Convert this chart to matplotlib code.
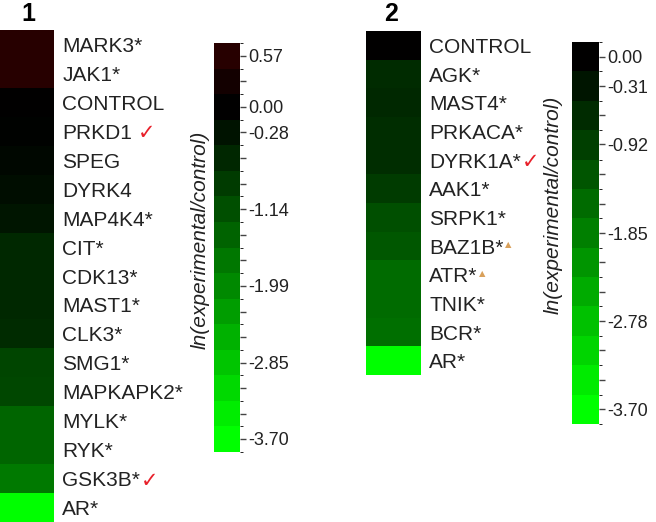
import numpy as np
import matplotlib
matplotlib.use('Agg')
import matplotlib.pyplot as plt
from matplotlib.colors import LinearSegmentedColormap, ListedColormap, BoundaryNorm, Normalize
from matplotlib.cm import ScalarMappable

plt.rcParams['font.family'] = ['Liberation Sans', 'DejaVu Sans']
plt.rcParams['axes.unicode_minus'] = False

# panel 1
genes1 = ['MARK3*', 'JAK1*', 'CONTROL', 'PRKD1', 'SPEG', 'DYRK4', 'MAP4K4*', 'CIT*',
          'CDK13*', 'MAST1*', 'CLK3*', 'SMG1*', 'MAPKAPK2*', 'MYLK*', 'RYK*', 'GSK3B*', 'AR*']
vals1 = [0.57, 0.55, 0.0, -0.05, -0.10, -0.18, -0.30, -0.58,
         -0.58, -0.60, -0.62, -1.00, -1.02, -1.45, -1.47, -1.75, -3.70]
marks1 = {'PRKD1': 'check', 'GSK3B*': 'check'}
cbar_ticks1 = [0.57, 0.285, 0.00, -0.285, -0.57, -0.855, -1.14, -1.425, -1.71,
               -1.99, -2.28, -2.565, -2.85, -3.135, -3.42, -3.70]
cbar_labels1 = {0.57: '0.57', 0.00: '0.00', -0.285: '-0.28', -1.14: '-1.14',
                -1.99: '-1.99', -2.85: '-2.85', -3.70: '-3.70'}

# panel 2
genes2 = ['CONTROL', 'AGK*', 'MAST4*', 'PRKACA*', 'DYRK1A*', 'AAK1*', 'SRPK1*',
          'BAZ1B*', 'ATR*', 'TNIK*', 'BCR*', 'AR*']
vals2 = [0.0, -0.62, -0.60, -0.64, -0.66, -0.85, -1.15, -1.25, -1.55, -1.55, -1.60, -3.70]
marks2 = {'DYRK1A*': 'check', 'BAZ1B*': 'tri', 'ATR*': 'tri'}
cbar_ticks2 = [0.00, -0.31, -0.62, -0.92, -1.23, -1.54, -1.85, -2.16, -2.47,
               -2.78, -3.08, -3.39, -3.70]
cbar_labels2 = {0.00: '0.00', -0.31: '-0.31', -0.92: '-0.92', -1.85: '-1.85',
                -2.78: '-2.78', -3.70: '-3.70'}

W, H = 656, 522
cmap = LinearSegmentedColormap.from_list('gkr', [(0, (0, 1, 0)), (0.5, (0, 0, 0)), (1, (1, 0, 0))])
norm = Normalize(-3.70, 3.70)


def px(x0, y0, x1, y1):
    return [x0 / W, 1 - y1 / H, (x1 - x0) / W, (y1 - y0) / H]


fig = plt.figure(figsize=(W / 100, H / 100), dpi=100)


def heat(rect, genes, vals):
    ax = fig.add_axes(rect)
    ax.imshow(np.array(vals)[:, None], cmap=cmap, norm=norm, aspect='auto',
              interpolation='nearest')
    ax.set_xticks([])
    ax.yaxis.tick_right()
    ax.set_yticks(range(len(genes)))
    ax.set_yticklabels(genes, fontsize=15, color='#222222')
    ax.tick_params(axis='y', length=0, pad=6)
    for s in ax.spines.values():
        s.set_visible(False)
    return ax


def cbar(rect, ticks, labels):
    cax = fig.add_axes(rect)
    step = ticks[0] - ticks[1]
    bounds = [t - step / 2 for t in ticks[::-1]] + [ticks[0] + step / 2]
    colors = [cmap(norm(t)) for t in ticks[::-1]]
    sm = ScalarMappable(norm=BoundaryNorm(bounds, len(colors)), cmap=ListedColormap(colors))
    cb = fig.colorbar(sm, cax=cax, ticks=ticks)
    cb.outline.set_visible(False)
    cax.set_yticklabels([labels.get(t, '') for t in ticks], fontsize=13, color='#222222')
    cax.tick_params(axis='y', length=4, width=1, color='#444444', pad=2)
    return cax


ax1 = heat(px(0, 30, 54, 522), genes1, vals1)
ax2 = heat(px(366, 31, 421, 375), genes2, vals2)
cax1 = cbar(px(214, 43, 240, 452), cbar_ticks1, cbar_labels1)
cax2 = cbar(px(572, 42, 599, 424), cbar_ticks2, cbar_labels2)

fig.text(28 / W, 1 - 14 / H, '1', fontsize=18, fontweight='bold', ha='center', va='center')
fig.text(391 / W, 1 - 14 / H, '2', fontsize=18, fontweight='bold', ha='center', va='center')
fig.text(200 / W, 1 - 240 / H, 'ln(experimental/control)', fontsize=15, style='italic',
         rotation=90, ha='center', va='center', color='#222222')
fig.text(553 / W, 1 - 205 / H, 'ln(experimental/control)', fontsize=15, style='italic',
         rotation=90, ha='center', va='center', color='#222222')

# check marks and triangles after labels
fig.canvas.draw()
r = fig.canvas.get_renderer()
inv = fig.transFigure.inverted()
for ax, marks in ((ax1, marks1), (ax2, marks2)):
    for lab in ax.get_yticklabels():
        kind = marks.get(lab.get_text())
        if kind is None:
            continue
        bb = lab.get_window_extent(r)
        gap = 6 if lab.get_text() == 'PRKD1' else 1
        x, y = inv.transform((bb.x1 + gap, (bb.y0 + bb.y1) / 2))
        if kind == 'check':
            fig.text(x, y, '\u2713', fontsize=15, color='#e8202a', fontweight='bold',
                     family='DejaVu Sans', ha='left', va='center')
        else:
            fig.text(x, y + 3 / H, '\u25b2', fontsize=6, color='#d9a05a',
                     family='DejaVu Sans', ha='left', va='center')

fig.savefig('out.png', dpi=100)
